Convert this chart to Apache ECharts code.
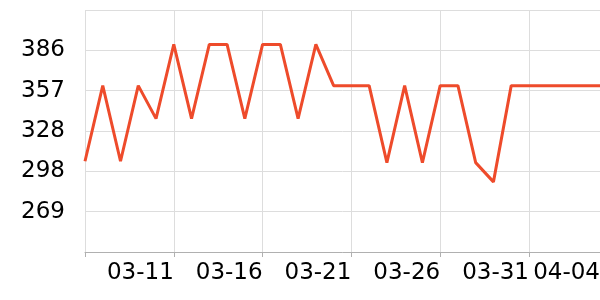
<!DOCTYPE html>
<html>
<head>
<meta charset="utf-8">
<script src="https://cdn.jsdelivr.net/npm/echarts@6/dist/echarts.min.js"></script>
<style>html,body{margin:0;padding:0;background:#fff;}#c{width:600px;height:300px;}</style>
</head>
<body>
<div id="c"></div>
<script>
const dates = ['03-06','03-07','03-08','03-09','03-10','03-11','03-12','03-13','03-14','03-15','03-16','03-17','03-18','03-19','03-20','03-21','03-22','03-23','03-24','03-25','03-26','03-27','03-28','03-29','03-30','03-31','04-01','04-02','04-03','04-04'];
const values = [306,361,306,361,337,391,337,391,391,337,391,391,337,391,361,361,361,305,361,305,361,361,305,291,361,361,361,361,361,361];
const labelDates = ['03-11','03-16','03-21','03-26','03-31','04-04'];
const yMin = 240, yMax = 416;

const labelIdx = new Set(labelDates.map(d => dates.indexOf(d)));
const tickShown = (i) => i === 0 || labelIdx.has(i);

const chart = echarts.init(document.getElementById('c'), null, {renderer:'canvas'});
chart.setOption({
  animation:false,
  grid:{left:85,right:0,top:10,bottom:48,containLabel:false,outerBoundsMode:'none'},
  xAxis:{
    type:'category',
    data: dates,
    boundaryGap:false,
    axisLine:{lineStyle:{color:'#b0b0b0'}},
    axisTick:{show:true,length:5,interval:(i)=>tickShown(i),lineStyle:{color:'#b0b0b0'}},
    splitLine:{show:true,interval:(i)=>tickShown(i),lineStyle:{color:'#dddddd'}},
    axisLabel:{color:'#000',fontSize:23,fontFamily:'DejaVu Sans',align:'right',margin:10,
      interval:(i)=>labelIdx.has(i),hideOverlap:false}
  },
  yAxis:{
    type:'value',min:yMin,max:yMax,interval:(yMax-yMin)/6,
    axisLine:{show:false},axisTick:{show:false},
    splitLine:{lineStyle:{color:'#dddddd'}},
    axisLabel:{color:'#000',fontSize:23,fontFamily:'DejaVu Sans',margin:20,padding:[4,0,0,0],
      formatter:v=>(v<=yMin+1e-6||v>=yMax-1e-6)?'':String(Math.floor(v+1e-9))}
  },
  series:[{type:'line',data:values,showSymbol:false,symbol:'none',
    lineStyle:{color:'#ee4b2b',width:3},itemStyle:{color:'#ee4b2b'}}]
});
</script>
</body>
</html>
